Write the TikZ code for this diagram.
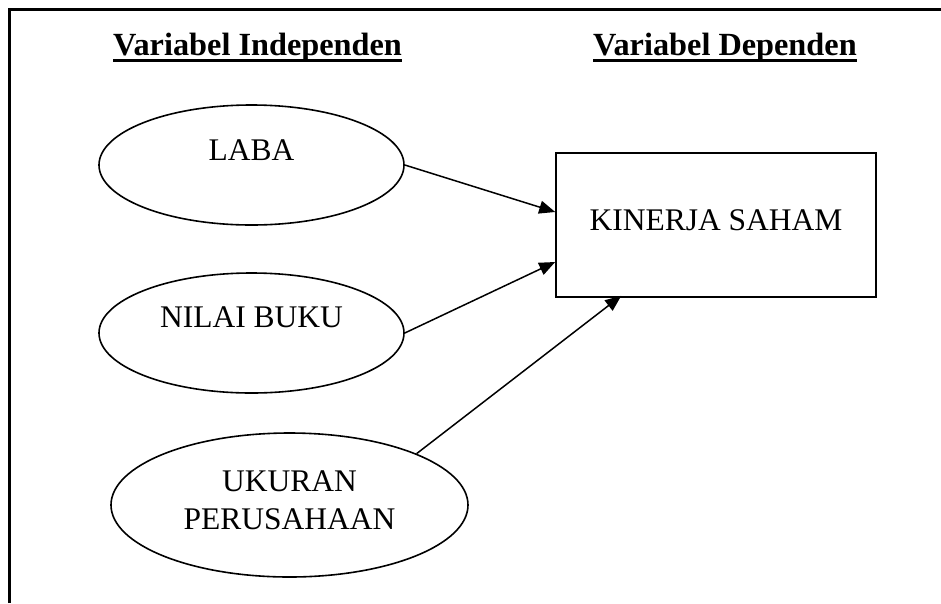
\documentclass[tikz,border=0pt]{standalone}
\usepackage{fontspec}
\setmainfont{Liberation Serif}
\usetikzlibrary{arrows.meta,shapes.geometric,calc}
\begin{document}
\begin{tikzpicture}[x=1pt,y=-1pt,
  oval/.style={ellipse,draw,line width=1.6pt,inner sep=0pt,text height=21pt,
    font=\fontsize{31.5pt}{37.5pt}\selectfont},
  boxnode/.style={rectangle,draw,line width=1.6pt,inner sep=0pt,text height=21pt,
    minimum width=320pt,minimum height=144pt,font=\fontsize{31.5pt}{37.5pt}\selectfont},
  header/.style={anchor=base west,inner sep=0pt,font=\fontsize{32.3pt}{38pt}\selectfont\bfseries},
  conn/.style={line width=1.5pt,-{Triangle[length=16pt,width=13pt]}},
  uline/.style={line width=3pt}]
\useasboundingbox (0,0) rectangle (941,603);
% frame
\draw[line width=3pt] (9,603) -- (9,9) -- (941,9);
% headers
\node[header] (h1) at (113,55) {Variabel Independen};
\node[header] (h2) at (593,55) {Variabel Dependen};
\draw[uline] ($(h1.base west)+(0,5)$) -- ($(h1.base east)+(0,5)$);
\draw[uline] ($(h2.base west)+(0,5)$) -- ($(h2.base east)+(0,5)$);
% nodes
\node[oval,minimum width=305pt,minimum height=120pt,text depth=30pt] (laba) at (251.5,165) {LABA};
\node[oval,minimum width=305pt,minimum height=120pt,text depth=33pt] (nilai) at (251.5,333) {NILAI BUKU};
\node[oval,minimum width=357pt,minimum height=144pt,text height=58.5pt,text depth=10pt,align=center] (ukuran) at (289.5,505) {UKURAN\\PERUSAHAAN};
\node[boxnode,text depth=11pt] (kinerja) at (716,225) {KINERJA SAHAM};
% arrow ends on the box
\coordinate (t1) at ($(kinerja.west)+(0,-13)$);
\coordinate (t2) at ($(kinerja.west)+(0,37)$);
\coordinate (t3) at ($(kinerja.south west)+(66,-2)$);
% connectors
\draw[conn] (laba.east) -- (t1);
\draw[conn] (nilai.east) -- (t2);
\draw[conn] (ukuran.22) -- (t3);
\end{tikzpicture}
\end{document}
